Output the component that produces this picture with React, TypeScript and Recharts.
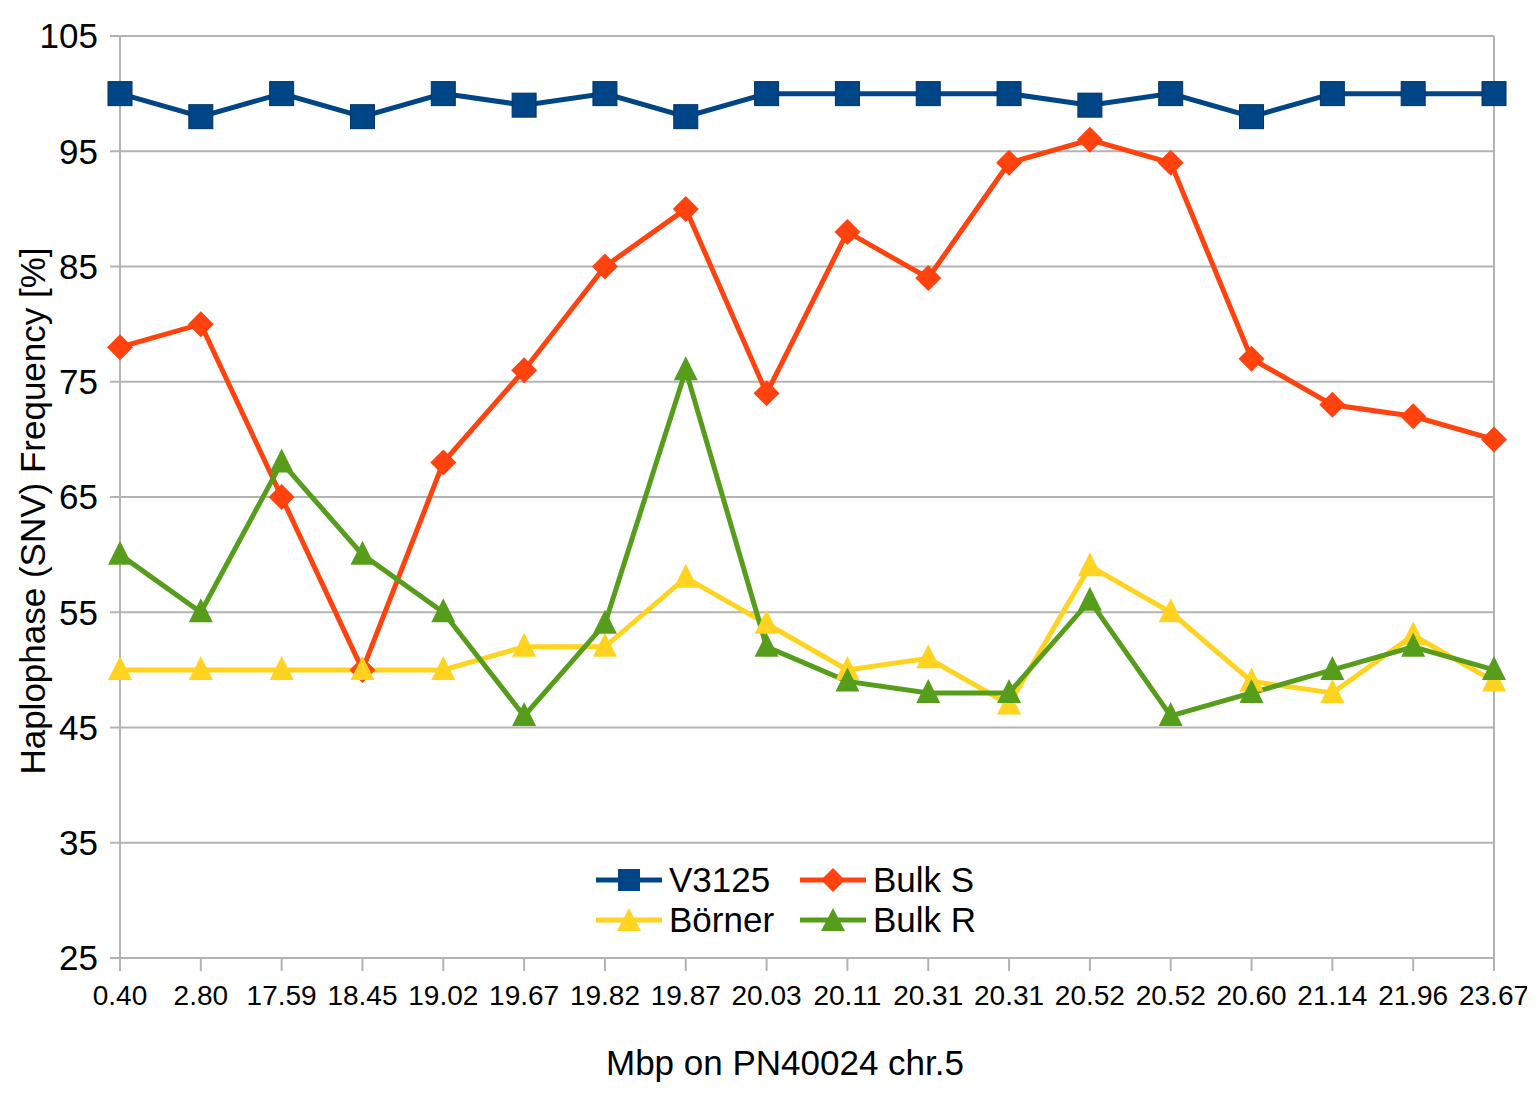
import React from 'react';
import { LineChart, Line, XAxis, YAxis, CartesianGrid, ReferenceLine, Label } from 'recharts';

const positions = ['0.40', '2.80', '17.59', '18.45', '19.02', '19.67', '19.82', '19.87', '20.03', '20.11', '20.31', '20.31', '20.52', '20.52', '20.60', '21.14', '21.96', '23.67'];
const v3125 = [100, 98, 100, 98, 100, 99, 100, 98, 100, 100, 100, 100, 99, 100, 98, 100, 100, 100];
const bulkS = [78, 80, 65, 50, 68, 76, 85, 90, 74, 88, 84, 94, 96, 94, 77, 73, 72, 70];
const borner = [50, 50, 50, 50, 50, 52, 52, 58, 54, 50, 51, 47, 59, 55, 49, 48, 53, 49];
const bulkR = [60, 55, 68, 60, 55, 46, 54, 76, 52, 49, 48, 48, 56, 46, 48, 50, 52, 50];
const yTicks = [25, 35, 45, 55, 65, 75, 85, 95, 105];

const data = positions.map((p, i) => ({
  idx: i,
  v3125: v3125[i],
  bulkS: bulkS[i],
  borner: borner[i],
  bulkR: bulkR[i],
}));
const xTicks = positions.map((_, i) => i);

const C_BLUE = '#004586';
const C_RED = '#ff420e';
const C_YELLOW = '#ffd320';
const C_GREEN = '#579d1c';
const FONT = '"Liberation Sans", Arial, sans-serif';

const Square = (color: string, s: number) => (props: any) => {
  const { cx, cy, index } = props;
  if (cx == null || cy == null) return null;
  return <rect key={index} x={cx - s / 2} y={cy - s / 2} width={s} height={s} fill={color} stroke="#003366" strokeWidth={1} />;
};
const Diamond = (color: string, s: number) => (props: any) => {
  const { cx, cy, index } = props;
  if (cx == null || cy == null) return null;
  const h = s / 2;
  return <polygon key={index} points={`${cx},${cy - h} ${cx + h},${cy} ${cx},${cy + h} ${cx - h},${cy}`} fill={color} />;
};
const Triangle = (color: string, s: number) => (props: any) => {
  const { cx, cy, index } = props;
  if (cx == null || cy == null) return null;
  const h = s / 2;
  return <polygon key={index} points={`${cx},${cy - h - 2} ${cx + h},${cy + h - 2} ${cx - h},${cy + h - 2}`} fill={color} />;
};

const legendItems = [
  { name: 'V3125', color: C_BLUE, shape: 'square' },
  { name: 'Bulk S', color: C_RED, shape: 'diamond' },
  { name: 'Börner', color: C_YELLOW, shape: 'triangle' },
  { name: 'Bulk R', color: C_GREEN, shape: 'triangle' },
];

const LegendIcon = ({ color, shape }: { color: string; shape: string }) => (
  <svg width={66} height={30} style={{ display: 'block' }}>
    <line x1={0} y1={15} x2={66} y2={15} stroke={color} strokeWidth={5} />
    {shape === 'square' && <rect x={22} y={4} width={22} height={22} fill={color} />}
    {shape === 'diamond' && <polygon points="33,3 45,15 33,27 21,15" fill={color} />}
    {shape === 'triangle' && <polygon points="33,3 45,26 21,26" fill={color} />}
  </svg>
);

const ChartLegend = () => (
  <div
    style={{
      position: 'absolute',
      left: 596,
      top: 860,
      display: 'grid',
      gridTemplateColumns: '204px 200px',
      fontFamily: FONT,
      fontSize: 35,
      color: '#000',
    }}
  >
    {legendItems.map((it) => (
      <div key={it.name} style={{ display: 'flex', alignItems: 'center', height: 40 }}>
        <LegendIcon color={it.color} shape={it.shape} />
        <span style={{ marginLeft: 7, lineHeight: '40px' }}>{it.name}</span>
      </div>
    ))}
  </div>
);

const YTitle = (props: any) => {
  const vb = props.viewBox || {};
  const x = (vb.x || 0) + 32;
  const y = (vb.y || 0) + (vb.height || 0) / 2 + 14;
  return (
    <text x={x} y={y} transform={`rotate(-90, ${x}, ${y})`} textAnchor="middle" dominantBaseline="central" fill="#000" fontSize={35} fontFamily={FONT}>
      Haplophase (SNV) Frequency [%]
    </text>
  );
};

const XTitle = (props: any) => {
  const vb = props.viewBox || {};
  const x = (vb.x || 0) + (vb.width || 0) / 2 - 22;
  const y = (vb.y || 0) + 117;
  return (
    <text x={x} y={y} textAnchor="middle" fill="#000" fontSize={35} fontFamily={FONT}>
      Mbp on PN40024 chr.5
    </text>
  );
};

export default function App() {
  return (
    <div style={{ margin: -8, width: 1535, height: 1094, background: '#fff', position: 'relative' }}>
      <LineChart width={1535} height={1094} data={data} margin={{ top: 36, right: 41, left: 0, bottom: 0 }}>
        <CartesianGrid vertical={false} stroke="#b3b3b3" strokeWidth={2} />
        <ReferenceLine x={17} stroke="#b3b3b3" strokeWidth={2} />
        <XAxis
          dataKey="idx"
          type="number"
          domain={[0, 17]}
          ticks={xTicks}
          interval={0}
          tickFormatter={(i: number) => positions[i]}
          height={136}
          tickSize={13}
          tickMargin={14}
          stroke="#b3b3b3"
          strokeWidth={2}
          tick={{ fill: '#000', fontSize: 28, fontFamily: FONT }}
          tickLine={{ stroke: '#b3b3b3', strokeWidth: 2 }}
        >
          <Label content={<XTitle />} />
        </XAxis>
        <YAxis
          type="number"
          domain={[25, 105]}
          ticks={yTicks}
          interval={0}
          width={120}
          tickSize={10}
          tickMargin={12}
          stroke="#b3b3b3"
          strokeWidth={2}
          tick={{ fill: '#000', fontSize: 35, fontFamily: FONT }}
          tickLine={{ stroke: '#b3b3b3', strokeWidth: 2 }}
        >
          <Label content={<YTitle />} />
        </YAxis>
        <Line dataKey="v3125" name="V3125" stroke={C_BLUE} strokeWidth={5} dot={Square(C_BLUE, 24)} isAnimationActive={false} />
        <Line dataKey="bulkS" name="Bulk S" stroke={C_RED} strokeWidth={5} dot={Diamond(C_RED, 26)} isAnimationActive={false} />
        <Line dataKey="borner" name="Börner" stroke={C_YELLOW} strokeWidth={5} dot={Triangle(C_YELLOW, 24)} isAnimationActive={false} />
        <Line dataKey="bulkR" name="Bulk R" stroke={C_GREEN} strokeWidth={5} dot={Triangle(C_GREEN, 24)} isAnimationActive={false} />
      </LineChart>
      <ChartLegend />
    </div>
  );
}
